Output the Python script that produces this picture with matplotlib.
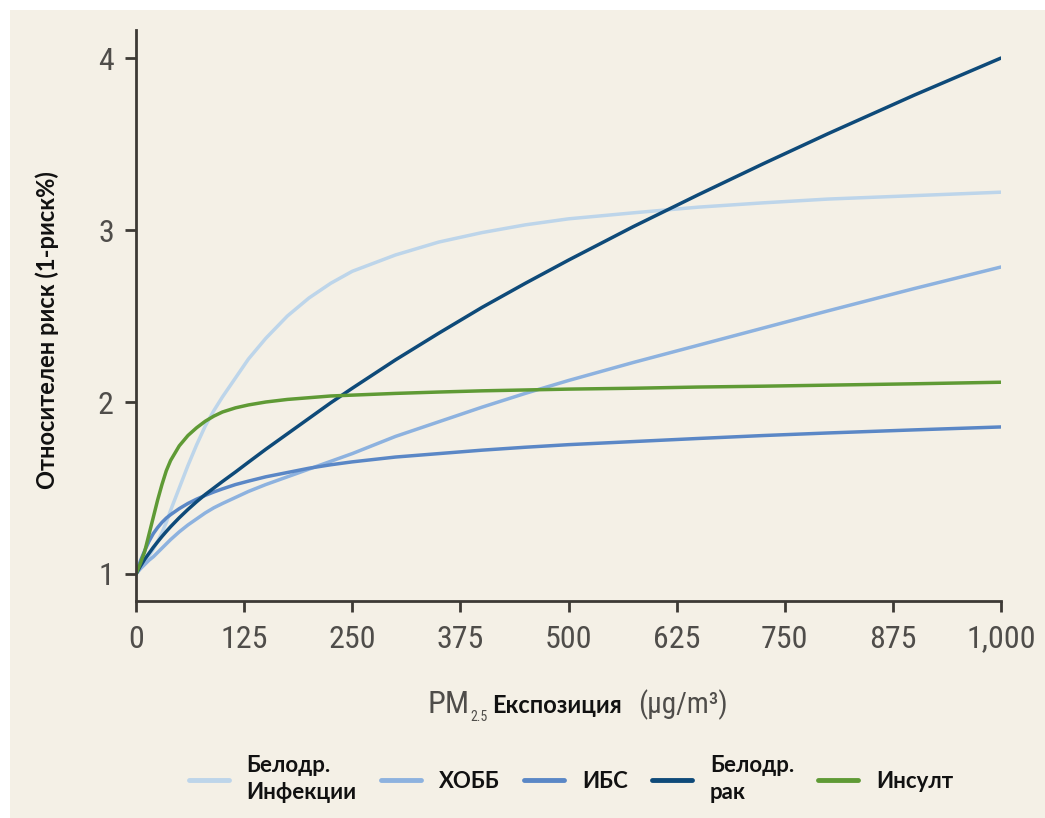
import matplotlib
matplotlib.use("Agg")
import matplotlib.pyplot as plt
from matplotlib import font_manager as fm
from matplotlib.patches import Rectangle

# ---------------- data ----------------
exposure = [0, 5, 10, 15, 20, 25, 30, 35, 40, 50, 60, 70, 80, 90, 100, 115, 130,
            150, 175, 200, 225, 250, 300, 350, 400, 450, 500, 575, 650, 725, 800,
            900, 1000]

alri = [1.00, 1.035, 1.07, 1.105, 1.145, 1.19, 1.24, 1.30, 1.37, 1.50, 1.63, 1.75,
        1.86, 1.95, 2.03, 2.14, 2.25, 2.37, 2.50, 2.605, 2.69, 2.76, 2.855, 2.93,
        2.985, 3.03, 3.065, 3.10, 3.133, 3.158, 3.18, 3.20, 3.22]
copd = [1.00, 1.03, 1.055, 1.08, 1.10, 1.125, 1.15, 1.175, 1.20, 1.245, 1.285, 1.32,
        1.355, 1.385, 1.41, 1.445, 1.48, 1.52, 1.565, 1.61, 1.655, 1.70, 1.80, 1.885,
        1.97, 2.05, 2.125, 2.23, 2.33, 2.43, 2.53, 2.66, 2.785]
ihd = [1.00, 1.075, 1.135, 1.19, 1.235, 1.27, 1.30, 1.325, 1.345, 1.38, 1.41, 1.435,
       1.457, 1.477, 1.495, 1.52, 1.54, 1.565, 1.59, 1.615, 1.635, 1.652, 1.68, 1.70,
       1.72, 1.737, 1.752, 1.77, 1.788, 1.805, 1.82, 1.838, 1.855]
lung = [1.00, 1.045, 1.085, 1.12, 1.155, 1.187, 1.218, 1.247, 1.275, 1.327, 1.375,
        1.42, 1.462, 1.50, 1.538, 1.593, 1.65, 1.725, 1.815, 1.905, 1.995, 2.08,
        2.245, 2.40, 2.55, 2.69, 2.825, 3.02, 3.205, 3.385, 3.56, 3.785, 4.00]
stroke = [1.00, 1.06, 1.13, 1.23, 1.33, 1.43, 1.52, 1.60, 1.66, 1.745, 1.805, 1.85,
          1.888, 1.918, 1.942, 1.966, 1.983, 2.00, 2.015, 2.025, 2.035, 2.04, 2.05,
          2.058, 2.065, 2.07, 2.075, 2.08, 2.087, 2.092, 2.098, 2.106, 2.115]

series_labels = ["Белодр.\nИнфекции", "ХОББ", "ИБС", "Белодр.\nрак", "Инсулт"]
series_colors = ["#bdd5ea", "#8db2df", "#5a87c6", "#0e4a79", "#5f9a35"]

x_ticks = [0, 125, 250, 375, 500, 625, 750, 875, 1000]
x_ticklabels = ["0", "125", "250", "375", "500", "625", "750", "875", "1,000"]
y_ticks = [1, 2, 3, 4]

# ---------------- fonts ----------------
avail = {f.name for f in fm.fontManager.ttflist}
narrow = "Roboto"
for cand in ["Roboto Condensed", "Liberation Sans Narrow", "Open Sans Condensed"]:
    if cand in avail:
        narrow = cand
        break
boldf = "Lato" if "Lato" in avail else "DejaVu Sans"

W, H = 1045, 818
fig = plt.figure(figsize=(W / 100, H / 100), dpi=100)
fig.patch.set_facecolor("white")
fig.patches.append(Rectangle((10 / W, 0), 1, (H - 10) / H, transform=fig.transFigure,
                             facecolor="#f4f0e6", edgecolor="none", zorder=-10))

ax = fig.add_axes([136 / W, (H - 601) / H, 865 / W, 571 / H])
ax.set_facecolor("none")

for vals, col, lab in zip([alri, copd, ihd, lung, stroke], series_colors, series_labels):
    ax.plot(exposure, vals, color=col, lw=2.5, label=lab,
            solid_capstyle="round", solid_joinstyle="round")

ax.set_xlim(0, 1000)
ax.set_ylim(0.843, 4.163)
ax.spines["top"].set_visible(False)
ax.spines["right"].set_visible(False)
for s in ("left", "bottom"):
    ax.spines[s].set_color("#3d3a35")
    ax.spines[s].set_linewidth(2.0)

ax.set_xticks(x_ticks)
ax.set_xticklabels(x_ticklabels)
ax.set_yticks(y_ticks)
ax.tick_params(axis="both", colors="#3d3a35", width=2.0, length=8, direction="out",
               labelcolor="#4f4d4a", labelsize=23)
ax.tick_params(axis="x", pad=9)
ax.tick_params(axis="y", pad=8)
for lbl in ax.get_xticklabels() + ax.get_yticklabels():
    lbl.set_family(narrow)

# y label
fig.text(47 / W, 1 - 330 / H, "Относителен риск (1-риск%)", rotation=90,
         ha="center", va="center", fontsize=17, fontweight="bold",
         family=boldf, color="#111111")

# x label pieces
base_y = 1 - 713 / H
pm = fig.text(427 / W, base_y, "PM", ha="left", va="baseline", fontsize=23,
              family=narrow, color="#4f4d4a")
fig.canvas.draw()
pm_right = pm.get_window_extent().x1
fig.text((pm_right + 1) / W, 1 - 721 / H, "2.5", ha="left", va="baseline",
         fontsize=10, family=narrow, color="#4f4d4a")
fig.text(492 / W, base_y, "Експозиция", ha="left", va="baseline", fontsize=17,
         fontweight="bold", family=boldf, color="#111111")
fig.text(638 / W, base_y, "(μg/m³)", ha="left", va="baseline", fontsize=21,
         family=[narrow, "DejaVu Sans"], color="#4f4d4a")

leg = ax.legend(loc="center", bbox_to_anchor=(571 / W, 1 - 779 / H),
                bbox_transform=fig.transFigure, ncol=5, frameon=False,
                handlelength=1.8, handletextpad=0.8, columnspacing=1.1,
                prop={"family": boldf, "weight": "bold", "size": 16})
for line in leg.get_lines():
    line.set_linewidth(3.5)
for t in leg.get_texts():
    t.set_color("#111111")
    t.set_linespacing(1.35)

fig.savefig("out.png", dpi=100, facecolor=fig.get_facecolor())
